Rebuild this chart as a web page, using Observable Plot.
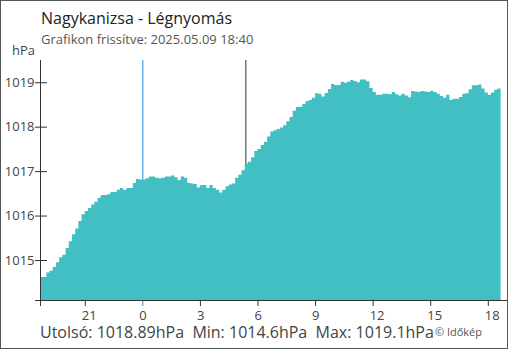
<!DOCTYPE html>
<html>
<head>
<meta charset="utf-8">
<script src="https://cdn.jsdelivr.net/npm/d3@7"></script>
<script src="https://cdn.jsdelivr.net/npm/@observablehq/plot@0.6"></script>
<style>
  html, body { margin: 0; padding: 0; background: #fff; }
  #wrap { position: relative; width: 510px; height: 350px; overflow: hidden; font-family: "Open Sans", sans-serif; }
  #border { position: absolute; left: 0; top: 0; width: 506px; height: 347px; border: 1px solid #555; }
  #chart { position: absolute; left: 0; top: 0; }
  .t { position: absolute; line-height: 1; white-space: pre; }
</style>
</head>
<body>
<div id="wrap">
  <div id="chart"></div>
  <div id="border"></div>
  <div class="t" style="left:41px;top:10px;font-size:16px;color:#222;">Nagykanizsa - Légnyomás</div>
  <div class="t" style="left:41px;top:32.8px;font-size:13px;color:#555;">Grafikon frissítve: 2025.05.09 18:40</div>
  <div class="t" style="right:475px;top:43.5px;font-size:13px;color:#444;">hPa</div>
  <div class="t" style="left:40px;top:325.7px;font-size:16px;line-height:12.8px;color:#444;">Utolsó: 1018.89hPa  Min: 1014.6hPa  Max: 1019.1hPa</div>
  <div class="t" style="right:28px;top:326.5px;font-size:11px;line-height:9px;color:#555;">© Időkép</div>
</div>
<script>
// 10-minute readings starting 2025-05-08 18:40 (hPa)
const startTime = Date.UTC(2025, 4, 8, 18, 40);
const stepMinutes = 10;
const pressure = [
  1014.62, 1014.62, 1014.72, 1014.76, 1014.84, 1014.95, 1015.06, 1015.12, 1015.27, 1015.42,
  1015.58, 1015.71, 1015.88, 1016.03, 1016.10, 1016.17, 1016.25, 1016.31, 1016.40, 1016.46,
  1016.46, 1016.48, 1016.53, 1016.53, 1016.58, 1016.62, 1016.58, 1016.62, 1016.62, 1016.73,
  1016.82, 1016.81, 1016.81, 1016.84, 1016.88, 1016.88, 1016.85, 1016.84, 1016.85, 1016.88,
  1016.88, 1016.90, 1016.86, 1016.80, 1016.88, 1016.85, 1016.74, 1016.72, 1016.71, 1016.63,
  1016.68, 1016.69, 1016.62, 1016.69, 1016.62, 1016.58, 1016.52, 1016.58, 1016.66, 1016.70,
  1016.72, 1016.85, 1016.92, 1017.02, 1017.17, 1017.21, 1017.31, 1017.45, 1017.50, 1017.59,
  1017.66, 1017.78, 1017.89, 1017.92, 1017.95, 1017.98, 1018.03, 1018.12, 1018.22, 1018.36,
  1018.44, 1018.45, 1018.51, 1018.57, 1018.60, 1018.65, 1018.75, 1018.74, 1018.68, 1018.76,
  1018.85, 1018.96, 1018.94, 1018.94, 1019.01, 1018.99, 1019.01, 1019.05, 1019.03, 1019.00,
  1019.06, 1019.06, 1019.02, 1018.87, 1018.78, 1018.72, 1018.72, 1018.74, 1018.74, 1018.73,
  1018.78, 1018.73, 1018.70, 1018.74, 1018.70, 1018.66, 1018.80, 1018.79, 1018.78, 1018.80,
  1018.79, 1018.78, 1018.81, 1018.78, 1018.74, 1018.69, 1018.65, 1018.72, 1018.60, 1018.63,
  1018.63, 1018.67, 1018.74, 1018.75, 1018.84, 1018.93, 1018.93, 1018.95, 1018.86, 1018.77,
  1018.72, 1018.77, 1018.83, 1018.86, 1018.89
];

const xDomain = [new Date(Date.UTC(2025, 4, 8, 18, 40)), new Date(Date.UTC(2025, 4, 9, 19, 0))];
const yDomain = [1014.1, 1019.5];
const yTicks = [1015, 1016, 1017, 1018, 1019];
const xTickTimes = [
  Date.UTC(2025, 4, 8, 21), Date.UTC(2025, 4, 9, 0), Date.UTC(2025, 4, 9, 3), Date.UTC(2025, 4, 9, 6),
  Date.UTC(2025, 4, 9, 9), Date.UTC(2025, 4, 9, 12), Date.UTC(2025, 4, 9, 15), Date.UTC(2025, 4, 9, 18)
].map(t => new Date(t));
const xTickLabels = ["21", "0", "3", "6", "9", "12", "15", "18"];
const midnight = new Date(Date.UTC(2025, 4, 9, 0, 0));
const sunrise = new Date(Date.UTC(2025, 4, 9, 5, 22));

const data = pressure.map((v, i) => ({ t: new Date(startTime + i * stepMinutes * 60000), v }));
const yBase = yDomain[0];

const chart = Plot.plot({
  width: 510,
  height: 350,
  marginLeft: 40,
  marginRight: 3,
  marginTop: 60,
  marginBottom: 50,
  x: { type: "utc", domain: xDomain, label: null },
  y: { domain: yDomain, label: null },
  style: { fontFamily: "Open Sans", fontSize: "13px", color: "#333", background: "transparent", overflow: "visible" },
  marks: [
    Plot.ruleX([sunrise], { stroke: "#333", strokeWidth: 1 }),
    Plot.ruleX([midnight], { stroke: "#2b95e0", strokeWidth: 1, insetBottom: -6 }),
    Plot.areaY(data, { x: "t", y1: () => yBase, y2: "v", curve: "step-after", fill: "#41bfc2" }),
    Plot.ruleX([xDomain[0]], { stroke: "#333", insetBottom: -6 }),
    Plot.ruleY([yBase], { stroke: "#333", insetLeft: -5 }),
    Plot.axisY(yTicks, { tickSize: 12, dx: 7, tickFormat: () => "", stroke: "#333", label: null }),
    Plot.axisY(yTicks, { tickSize: 0, tickPadding: 6, fill: "#444", label: null, tickFormat: d => String(d) }),
    Plot.axisX(xTickTimes.filter(t => +t !== +midnight), { tickSize: 6, tickFormat: () => "", stroke: "#333", label: null }),
    Plot.axisX(xTickTimes, { tickSize: 0, tickPadding: 10.5, textAnchor: "start", dx: -3.5, fill: "#444", label: null,
      tickFormat: (d) => xTickLabels[xTickTimes.findIndex(t => +t === +d)] })
  ]
});
document.getElementById("chart").appendChild(chart);
</script>
</body>
</html>
